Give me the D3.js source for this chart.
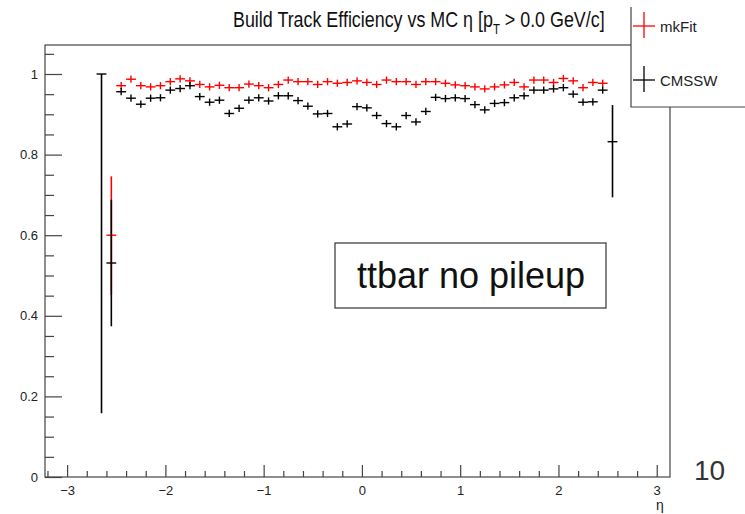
<!DOCTYPE html>
<html>
<head>
<meta charset="utf-8">
<script src="https://cdn.jsdelivr.net/npm/d3@7"></script>
<style>
  html, body { margin: 0; padding: 0; background: #fff; }
  svg { display: block; font-family: "Liberation Sans", Arial, Helvetica, sans-serif; }
</style>
</head>
<body>
<svg id="chart" width="745" height="514"></svg>
<script>
// Bin centres in eta (bin width 0.1)
const etaBins = [
  -2.65, -2.55, -2.45, -2.35, -2.25, -2.15, -2.05, -1.95, -1.85, -1.75, -1.65,
  -1.55, -1.45, -1.35, -1.25, -1.15, -1.05, -0.95, -0.85, -0.75, -0.65, -0.55,
  -0.45, -0.35, -0.25, -0.15, -0.05, 0.05, 0.15, 0.25, 0.35, 0.45, 0.55,
  0.65, 0.75, 0.85, 0.95, 1.05, 1.15, 1.25, 1.35, 1.45, 1.55, 1.65,
  1.75, 1.85, 1.95, 2.05, 2.15, 2.25, 2.35, 2.45, 2.55
];
const binWidth = 0.1;

// mkFit efficiency per bin (null = empty bin)
const mkfitEff = [
  null, 0.600,
  0.971, 0.987, 0.971, 0.968, 0.971, 0.981, 0.988, 0.983, 0.974, 0.968,
  0.972, 0.966, 0.966, 0.975, 0.971,
  0.966, 0.974, 0.985, 0.981, 0.981, 0.974, 0.981, 0.977, 0.979, 0.983,
  0.979, 0.974, 0.985, 0.981, 0.981, 0.974, 0.981, 0.981,
  0.977, 0.973, 0.971, 0.968, 0.963, 0.968, 0.973, 0.979, 0.968, 0.985,
  0.985, 0.979, 0.989, 0.983, 0.966, 0.979, 0.977,
  null
];

// CMSSW efficiency per bin
const cmsswEff = [
  1.000, 0.531,
  0.956, 0.940, 0.925, 0.940, 0.941, 0.960, 0.964, 0.971, 0.944, 0.930,
  0.935, 0.902, 0.915, 0.935, 0.941,
  0.933, 0.946, 0.946, 0.934, 0.920, 0.901, 0.902, 0.869, 0.876, 0.919,
  0.916, 0.897, 0.877, 0.869, 0.897, 0.881, 0.907, 0.942,
  0.939, 0.941, 0.939, 0.924, 0.911, 0.927, 0.929, 0.941, 0.946, 0.960,
  0.960, 0.963, 0.966, 0.950, 0.930, 0.931, 0.960,
  0.832
];

// Uncertainties: the typical (small) error in well-populated bins,
// and explicit lower/upper bounds for the sparse edge bins.
const bulkErr = 0.009;
const mkfitBounds = { "-2.55": [0.452, 0.746] };
const cmsswBounds = {
  "-2.65": [0.158, 1.000],
  "-2.55": [0.374, 0.688],
  "2.55": [0.694, 0.923]
};

const xTicks = [-3, -2, -1, 0, 1, 2, 3];
const yTicks = [0, 0.2, 0.4, 0.6, 0.8, 1];
const xMinorTicks = [-3.2, -2.8, -2.6, -2.4, -2.2, -1.8, -1.6, -1.4, -1.2, -0.8, -0.6, -0.4, -0.2,
  0.2, 0.4, 0.6, 0.8, 1.2, 1.4, 1.6, 1.8, 2.2, 2.4, 2.6, 2.8];
const yMinorTicks = [0.05, 0.1, 0.15, 0.25, 0.3, 0.35, 0.45, 0.5, 0.55, 0.65, 0.7, 0.75,
  0.85, 0.9, 0.95, 1.05];

const series = [
  { name: "mkFit", color: "#ff0000", values: mkfitEff, bounds: mkfitBounds },
  { name: "CMSSW", color: "#000000", values: cmsswEff, bounds: cmsswBounds }
];

const svg = d3.select("#chart");
const frame = { left: 45, right: 670, top: 45, bottom: 477 };

const x = d3.scaleLinear().domain([-3.225, 3.135]).range([frame.left, frame.right]);
const y = d3.scaleLinear().domain([0, 1]).range([frame.bottom, 74]);

// Frame
svg.append("rect")
  .attr("x", frame.left).attr("y", frame.top)
  .attr("width", frame.right - frame.left).attr("height", frame.bottom - frame.top)
  .attr("fill", "none").attr("stroke", "#444").attr("stroke-width", 1.2);

// Axes (ticks point into the frame)
const gx = svg.append("g").attr("transform", `translate(0,${frame.bottom})`);
gx.call(d3.axisBottom(x).tickValues(xTicks).tickSize(-12).tickPadding(5)
  .tickFormat(d => d < 0 ? "\u2212" + Math.abs(d) : String(d)));
const gxm = svg.append("g").attr("transform", `translate(0,${frame.bottom})`);
gxm.call(d3.axisBottom(x).tickValues(xMinorTicks).tickSize(-6).tickFormat(""));

const gy = svg.append("g").attr("transform", `translate(${frame.left},0)`);
gy.call(d3.axisLeft(y).tickValues(yTicks).tickSize(-17).tickPadding(7)
  .tickFormat(d => String(+d.toFixed(1))));
const gym = svg.append("g").attr("transform", `translate(${frame.left},0)`);
gym.call(d3.axisLeft(y).tickValues(yMinorTicks.filter(v => y(v) > frame.top)).tickSize(-9).tickFormat(""));

[gx, gxm, gy, gym].forEach(g => {
  g.select(".domain").remove();
  g.selectAll(".tick line").attr("stroke", "#444").attr("stroke-width", 1.2);
  g.selectAll(".tick text").attr("fill", "#222").style("font-size", "13px")
    .style("font-family", "'Liberation Sans', Arial, sans-serif");
});
gx.selectAll(".tick text").attr("dy", "1em");

// Axis title
svg.append("text").attr("x", 660).attr("y", 510).attr("text-anchor", "middle")
  .attr("fill", "#222").style("font-size", "14px").text("\u03b7");

// Data points: horizontal bar = bin width, vertical bar = uncertainty
series.forEach(s => {
  const g = svg.append("g").attr("stroke", s.color).attr("stroke-width", 1.4).attr("fill", "none");
  etaBins.forEach((eta, i) => {
    const v = s.values[i];
    if (v === null) return;
    const b = s.bounds[String(eta)];
    const lo = b ? b[0] : v - bulkErr;
    const hi = b ? b[1] : Math.min(1, v + bulkErr);
    g.append("line")
      .attr("x1", x(eta - binWidth / 2)).attr("x2", x(eta + binWidth / 2))
      .attr("y1", y(v)).attr("y2", y(v));
    g.append("line")
      .attr("x1", x(eta)).attr("x2", x(eta))
      .attr("y1", y(lo)).attr("y2", y(hi))
      .attr("stroke-width", b ? 1.6 : 1.4);
  });
});

// Title: narrow, tall lettering fitted between x = 233 and x = 605
const titleG = svg.append("g");
const title = titleG.append("text").attr("x", 0).attr("y", 27)
  .attr("fill", "#111").style("font-size", "22px");
title.append("tspan").text("Build Track Efficiency vs MC \u03b7 [p");
title.append("tspan").attr("dy", 7).style("font-size", "14px").text("T");
title.append("tspan").attr("dy", -7).text(" > 0.0 GeV/c]");
const tw = title.node().getBBox().width;
titleG.attr("transform", `translate(233,0) scale(${372 / tw},1)`);

// Legend (box runs off the top and right)
const leg = svg.append("g");
leg.append("rect").attr("x", 631).attr("y", 7).attr("width", 130).attr("height", 100)
  .attr("fill", "#fff").attr("stroke", "none");
leg.append("path").attr("d", "M631,7 V107 H745")
  .attr("fill", "none").attr("stroke", "#444").attr("stroke-width", 1.2);
series.forEach((s, i) => {
  const cy = 26 + i * 54;
  leg.append("line").attr("x1", 633).attr("x2", 655).attr("y1", cy).attr("y2", cy)
    .attr("stroke", s.color).attr("stroke-width", 1.3);
  leg.append("line").attr("x1", 644).attr("x2", 644).attr("y1", cy - 14).attr("y2", cy + 12)
    .attr("stroke", s.color).attr("stroke-width", 1.3);
  leg.append("text").attr("x", 660).attr("y", cy + 6).attr("fill", "#222")
    .style("font-size", "15px").text(s.name);
});

// Sample annotation
const note = svg.append("g");
note.append("rect").attr("x", 335).attr("y", 243).attr("width", 271).attr("height", 65)
  .attr("fill", "#fff").attr("stroke", "#333").attr("stroke-width", 1.2);
note.append("text").attr("x", 471).attr("y", 288).attr("text-anchor", "middle")
  .attr("fill", "#111").style("font-size", "36px").text("ttbar no pileup");

// Stray page number at the lower right
svg.append("text").attr("x", 694).attr("y", 480).attr("fill", "#333")
  .style("font-size", "28px").text("10");
</script>
</body>
</html>
